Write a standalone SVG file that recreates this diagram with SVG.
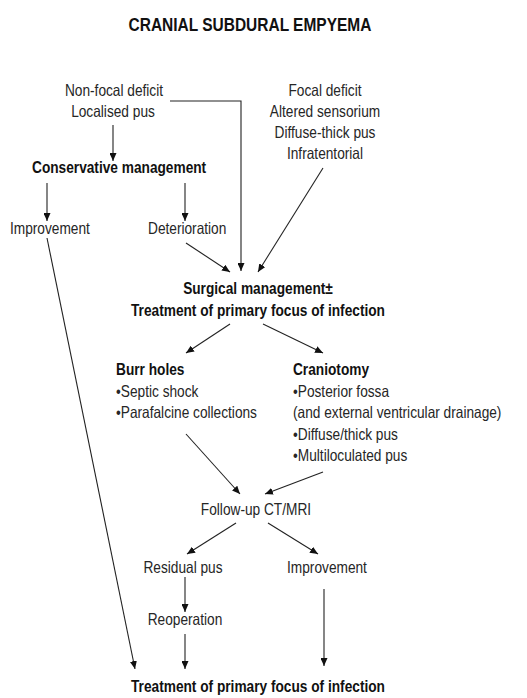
<svg xmlns="http://www.w3.org/2000/svg" width="527" height="698" viewBox="0 0 527 698">
<style>
text{font-family:"Liberation Sans",Arial,sans-serif;font-size:13.7px;fill:#262626}
.b{font-weight:bold;fill:#111}
.m{text-anchor:middle}
.t{font-size:15.5px}
.c line,.c polyline{stroke:#222;stroke-width:1.1;fill:none;marker-end:url(#ah)}
</style>
<defs>
<marker id="ah" markerUnits="userSpaceOnUse" markerWidth="8" markerHeight="7" refX="8" refY="3.5" orient="auto">
<path d="M0,0 L8,3.5 L0,7 z" fill="#111"/>
</marker>
</defs>
<rect width="527" height="698" fill="#fff"/>
<g id="title"><text class="b m t" x="250" y="0" transform="translate(0,31) scale(1,1.22)">CRANIAL SUBDURAL EMPYEMA</text></g>
<g id="nonfocal"><text class="m" x="114" y="0" transform="translate(0,96) scale(1,1.22)">Non-focal deficit</text><text class="m" x="113" y="0" transform="translate(0,117) scale(1,1.22)">Localised pus</text></g>
<g id="focal"><text class="m" x="325" y="0" transform="translate(0,96) scale(1,1.22)">Focal deficit</text><text class="m" x="325" y="0" transform="translate(0,117) scale(1,1.22)">Altered sensorium</text><text class="m" x="325" y="0" transform="translate(0,138) scale(1,1.22)">Diffuse-thick pus</text><text class="m" x="325" y="0" transform="translate(0,159) scale(1,1.22)">Infratentorial</text></g>
<g id="conservative"><text class="b" x="32" y="0" transform="translate(0,173) scale(1,1.22)">Conservative management</text></g>
<g id="improvement1"><text x="10" y="0" transform="translate(0,234) scale(1,1.22)">Improvement</text></g>
<g id="deterioration"><text x="148" y="0" transform="translate(0,234) scale(1,1.22)">Deterioration</text></g>
<g id="surgical"><text class="b m" x="258" y="0" transform="translate(0,294) scale(1,1.22)">Surgical management±</text><text class="b m" x="258" y="0" transform="translate(0,316) scale(1,1.22)">Treatment of primary focus of infection</text></g>
<g id="burr"><text class="b" x="116" y="0" transform="translate(0,375) scale(1,1.22)">Burr holes</text><text x="116" y="0" transform="translate(0,397) scale(1,1.22)">•Septic shock</text><text x="116" y="0" transform="translate(0,418) scale(1,1.22)">•Parafalcine collections</text></g>
<g id="craniotomy"><text class="b" x="293" y="0" transform="translate(0,375) scale(1,1.22)">Craniotomy</text><text x="293" y="0" transform="translate(0,397) scale(1,1.22)">•Posterior fossa</text><text x="293" y="0" transform="translate(0,418) scale(1,1.22)">(and external ventricular drainage)</text><text x="293" y="0" transform="translate(0,440) scale(1,1.22)">•Diffuse/thick pus</text><text x="293" y="0" transform="translate(0,461) scale(1,1.22)">•Multiloculated pus</text></g>
<g id="followup"><text class="m" x="256" y="0" transform="translate(0,515) scale(1,1.22)">Follow-up CT/MRI</text></g>
<g id="residual"><text class="m" x="183" y="0" transform="translate(0,573) scale(1,1.22)">Residual pus</text></g>
<g id="improvement2"><text class="m" x="327" y="0" transform="translate(0,573) scale(1,1.22)">Improvement</text></g>
<g id="reoperation"><text class="m" x="185" y="0" transform="translate(0,625) scale(1,1.22)">Reoperation</text></g>
<g id="treatment"><text class="b m" x="258" y="0" transform="translate(0,692) scale(1,1.22)">Treatment of primary focus of infection</text></g>
<g id="connectors" class="c">
<line x1="113" y1="125" x2="113" y2="161"/>
<polyline points="170,101 241,101 241,271"/>
<line x1="323" y1="168" x2="258" y2="272"/>
<line x1="47" y1="183" x2="47" y2="221"/>
<line x1="185" y1="183" x2="185" y2="221"/>
<line x1="186" y1="243" x2="230" y2="272"/>
<line x1="47" y1="238" x2="135" y2="669"/>
<line x1="230" y1="324" x2="186" y2="353"/>
<line x1="263" y1="324" x2="323" y2="353"/>
<line x1="186" y1="434" x2="240" y2="494"/>
<line x1="323" y1="472" x2="265" y2="494"/>
<line x1="236" y1="523" x2="187" y2="554"/>
<line x1="268" y1="523" x2="318" y2="554"/>
<line x1="185" y1="577" x2="185" y2="612"/>
<line x1="185" y1="634" x2="185" y2="669"/>
<line x1="324" y1="589" x2="324" y2="666"/>
</g>
</svg>
